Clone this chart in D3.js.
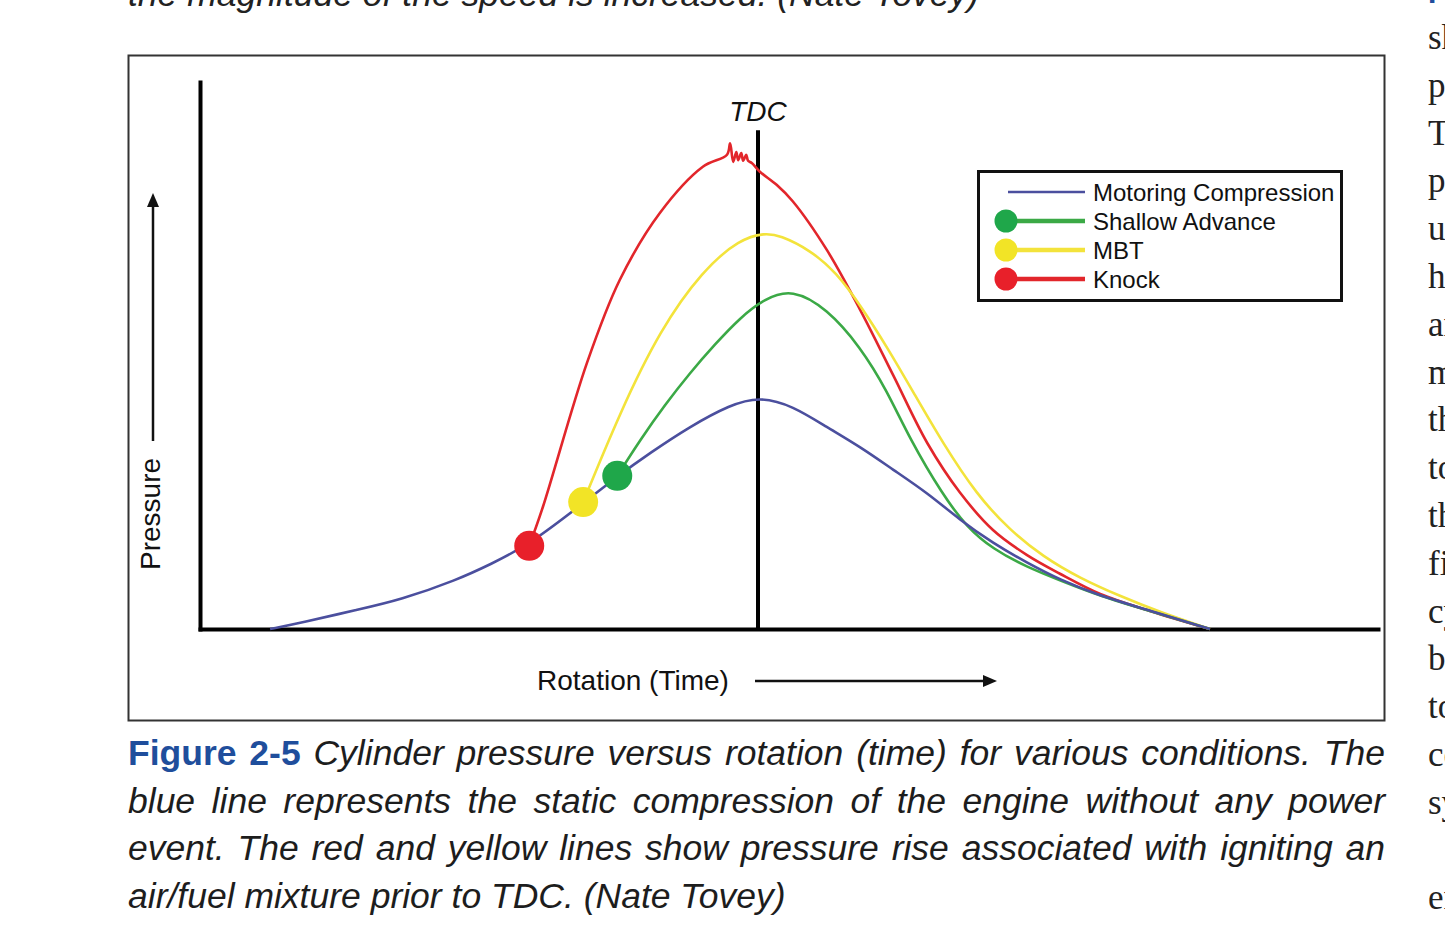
<!DOCTYPE html>
<html>
<head>
<meta charset="utf-8">
<script src="https://cdn.jsdelivr.net/npm/d3@7"></script>
<style>
  body { margin: 0; background: #fff; overflow: hidden; }
  svg { display: block; }
</style>
</head>
<body>
<script>
/* CONSTANTS AND GLOBALS */
const width = 1445,
  height = 935;

/* DATA (crank angle in degrees from TDC, relative pressure) */
const motoring = [[-78.7, 0], [-73.5, 1.2], [-64.7, 3.5], [-57.7, 5.3], [-48.5, 9.0], [-43.2, 11.8],
  [-36.9, 15.4], [-28.2, 23.0], [-22.7, 27.9], [-17.4, 32.2], [-11.0, 37.0],
  [-4.5, 41.0], [0.3, 42.5], [5.6, 40.8], [11.1, 36.9], [16.5, 33.3], [21.8, 29.1], [27.3, 24.9],
  [32.6, 19.9], [37.9, 15.7], [43.4, 12.1], [48.7, 9.0], [55.2, 6.0], [63.2, 3.4], [72.9, 0]];

const shallow = [[-22.7, 28.0], [-19.0, 34.6], [-15.0, 41.0], [-11.0, 46.8], [-6.9, 52.1],
  [-2.9, 56.9], [1.1, 60.4], [5.5, 62.2], [11.1, 58.6], [16.5, 51.6], [20.8, 43.6], [24.5, 34.7],
  [29.8, 24.5], [33.7, 18.6], [37.9, 14.6], [43.4, 11.3], [48.7, 8.9], [55.2, 6.0], [63.2, 3.3],
  [72.9, 0]];

const mbt = [[-28.2, 23.2], [-22.3, 39.5], [-15.8, 54.7], [-8.9, 65.6], [-2.9, 71.3], [1.1, 72.4],
  [3.5, 72.0], [8.4, 69.3], [12.7, 65.1], [16.5, 59.2], [20.8, 51.6], [25.3, 42.8], [29.8, 34.0],
  [35.3, 24.5], [40.6, 18.1], [46.0, 13.2], [51.9, 9.3], [58.4, 6.0], [64.8, 3.1], [72.9, 0]];

const knock = [[-36.9, 15.2], [-34.7, 22.3], [-27.6, 48.6], [-22.3, 63.8], [-15.8, 76.1],
  [-8.9, 84.5], [-5.0, 86.7], [-4.5, 88.8], [-4.0, 85.4], [-3.5, 87.2], [-3.2, 85.7], [-2.7, 87.0],
  [-2.4, 85.6], [-1.9, 86.7], [-1.6, 85.6], [-1.0, 85.2], [0.3, 83.6], [3.0, 81.2], [5.6, 78.2],
  [11.1, 69.3], [16.5, 58.3], [21.8, 46.4], [27.3, 34.0], [32.6, 24.9], [37.9, 18.1], [43.4, 13.5],
  [48.7, 10.1], [55.2, 6.4], [63.2, 3.3], [72.9, 0]];

const seriesNames = ["Motoring Compression", "Shallow Advance", "MBT", "Knock"];
const seriesColors = ["#4b4f9e", "#3ba946", "#f3e33b", "#e2262b"];
const dotColors = [null, "#1fa74a", "#f2e426", "#e8202a"];

const captionLines = [
  "Cylinder pressure versus rotation (time) for various conditions. The",
  "blue line represents the static compression of the engine without any power",
  "event. The red and yellow lines show pressure rise associated with igniting an",
  "air/fuel mixture prior to TDC. (Nate Tovey)"
];
const sideWords = ["show", "pressure", "The", "piston", "up", "has", "and", "more", "the",
  "top", "the", "fire", "cycle", "burn", "to", "combustion", "system", "", "engine"];

const svg = d3.select("body")
  .append("svg")
  .attr("width", width)
  .attr("height", height)
  .style("background-color", "white");

/* PAGE TEXT AROUND THE FIGURE */
svg.append("text")
  .attr("x", 128).attr("y", 6)
  .attr("font-family", "Liberation Sans, Arial, sans-serif")
  .attr("font-style", "italic")
  .attr("font-size", 35.5)
  .attr("fill", "#222")
  .text("the magnitude of the speed is increased. (Nate Tovey)");

svg.append("text")
  .attr("x", 1428).attr("y", 3)
  .attr("font-family", "Liberation Sans, Arial, sans-serif")
  .attr("font-weight", "bold")
  .attr("font-size", 30)
  .attr("fill", "#1f4e9c")
  .text("Figure");

svg.selectAll(".side")
  .data(sideWords)
  .join("text")
  .attr("class", "side")
  .attr("x", 1428)
  .attr("y", (d, i) => 49 + i * 47.8)
  .attr("font-family", "Liberation Serif, Times New Roman, serif")
  .attr("font-size", 35)
  .attr("fill", "#222")
  .text(d => d);

/* FIGURE FRAME */
svg.append("rect")
  .attr("x", 128.5).attr("y", 55.5)
  .attr("width", 1256).attr("height", 665)
  .attr("fill", "none")
  .attr("stroke", "#333")
  .attr("stroke-width", 2);

/* SCALES */
const xScale = d3.scaleLinear()
  .domain([-90, 100])
  .range([200, 1378]);

const yScale = d3.scaleLinear()
  .domain([0, 100])
  .range([629, 82]);

/* AXES */
svg.append("g")
  .attr("transform", `translate(0, ${yScale(0)})`)
  .call(d3.axisBottom(xScale).tickValues([]).tickSizeOuter(0));

svg.append("g")
  .attr("transform", `translate(${xScale(-90)}, 0)`)
  .call(d3.axisLeft(yScale).tickValues([]).tickSizeOuter(0));

svg.selectAll(".domain")
  .attr("stroke", "#000")
  .attr("stroke-width", 4)
  .attr("stroke-linecap", "square");

// TDC marker
svg.append("line")
  .attr("x1", xScale(0)).attr("x2", xScale(0))
  .attr("y1", yScale(0)).attr("y2", yScale(91.2))
  .attr("stroke", "#000")
  .attr("stroke-width", 4);

svg.append("text")
  .attr("x", xScale(0)).attr("y", yScale(91.2) - 9)
  .attr("text-anchor", "middle")
  .attr("font-family", "Liberation Sans, Arial, sans-serif")
  .attr("font-style", "italic")
  .attr("font-size", 28)
  .attr("fill", "#111")
  .text("TDC");

// axis titles with arrows
svg.append("text")
  .attr("transform", "translate(160, 570) rotate(-90)")
  .attr("font-family", "Liberation Sans, Arial, sans-serif")
  .attr("font-size", 28)
  .attr("fill", "#111")
  .text("Pressure");

svg.append("line")
  .attr("x1", 153).attr("x2", 153)
  .attr("y1", 441).attr("y2", 204)
  .attr("stroke", "#111").attr("stroke-width", 2.5);
svg.append("path")
  .attr("d", "M147,207 L153,193 L159,207 Z")
  .attr("fill", "#111");

svg.append("text")
  .attr("x", 537).attr("y", 690)
  .attr("font-family", "Liberation Sans, Arial, sans-serif")
  .attr("font-size", 28)
  .attr("fill", "#111")
  .text("Rotation (Time)");

svg.append("line")
  .attr("x1", 755).attr("x2", 986)
  .attr("y1", 681).attr("y2", 681)
  .attr("stroke", "#111").attr("stroke-width", 2.5);
svg.append("path")
  .attr("d", "M983,675 L997,681 L983,687 Z")
  .attr("fill", "#111");

/* LINES */
// smooth B-spline for the clean curves, Catmull-Rom for knock so the ringing stays visible
const smoothLine = d3.line()
  .x(d => xScale(d[0]))
  .y(d => yScale(d[1]))
  .curve(d3.curveBasis);

const knockLine = d3.line()
  .x(d => xScale(d[0]))
  .y(d => yScale(d[1]))
  .curve(d3.curveCatmullRom.alpha(0.5));

const allSeries = [motoring, shallow, mbt, knock];

// draw curves, blue last so it sits on top like the reference
[3, 2, 1, 0].forEach(i => {
  svg.append("path")
    .datum(allSeries[i])
    .attr("d", i === 3 ? knockLine : smoothLine)
    .attr("fill", "none")
    .attr("stroke", seriesColors[i])
    .attr("stroke-width", 2.6)
    .attr("stroke-linejoin", "round");
});

// ignition points
svg.selectAll(".dot")
  .data([1, 2, 3])
  .join("circle")
  .attr("class", "dot")
  .attr("cx", i => xScale(allSeries[i][0][0]))
  .attr("cy", i => yScale(allSeries[i][0][1]))
  .attr("r", 15)
  .attr("fill", i => dotColors[i]);

/* LEGEND */
const legend = svg.append("g");
legend.append("rect")
  .attr("x", 978.5).attr("y", 171.5)
  .attr("width", 363).attr("height", 129)
  .attr("fill", "white")
  .attr("stroke", "#111")
  .attr("stroke-width", 3);

const rows = legend.selectAll(".row")
  .data(seriesNames)
  .join("g")
  .attr("class", "row")
  .attr("transform", (d, i) => `translate(0, ${192 + i * 29})`);

rows.append("line")
  .attr("x1", (d, i) => i === 0 ? 1008 : 1006)
  .attr("x2", 1085)
  .attr("stroke", (d, i) => seriesColors[i])
  .attr("stroke-width", (d, i) => i === 0 ? 2.5 : 4.5);

rows.filter((d, i) => i > 0)
  .append("circle")
  .attr("cx", 1006)
  .attr("r", 11.5)
  .attr("fill", d => dotColors[seriesNames.indexOf(d)]);

rows.append("text")
  .attr("x", 1093).attr("y", 8.5)
  .attr("font-family", "Liberation Sans, Arial, sans-serif")
  .attr("font-size", 24)
  .attr("fill", "#111")
  .text(d => d);

/* CAPTION */
const capLeft = 128, capRight = 1385, capFont = 35.5;
captionLines.forEach((txt, i) => {
  const t = svg.append("text")
    .attr("x", capLeft)
    .attr("y", 765 + i * 47.6)
    .attr("font-family", "Liberation Sans, Arial, sans-serif")
    .attr("font-size", capFont)
    .attr("fill", "#1d1d1d");
  if (i === 0) {
    t.append("tspan")
      .attr("font-weight", "bold")
      .attr("fill", "#1f4e9c")
      .text("Figure 2-5 ");
  }
  t.append("tspan")
    .attr("font-style", "italic")
    .text(txt);
  // justify all but the last line
  if (i < captionLines.length - 1) {
    const len = t.node().getComputedTextLength();
    const gaps = (txt.match(/ /g) || []).length + (i === 0 ? 2 : 0);
    t.attr("word-spacing", Math.max(0, (capRight - capLeft - len) / gaps));
  }
});
</script>
</body>
</html>
